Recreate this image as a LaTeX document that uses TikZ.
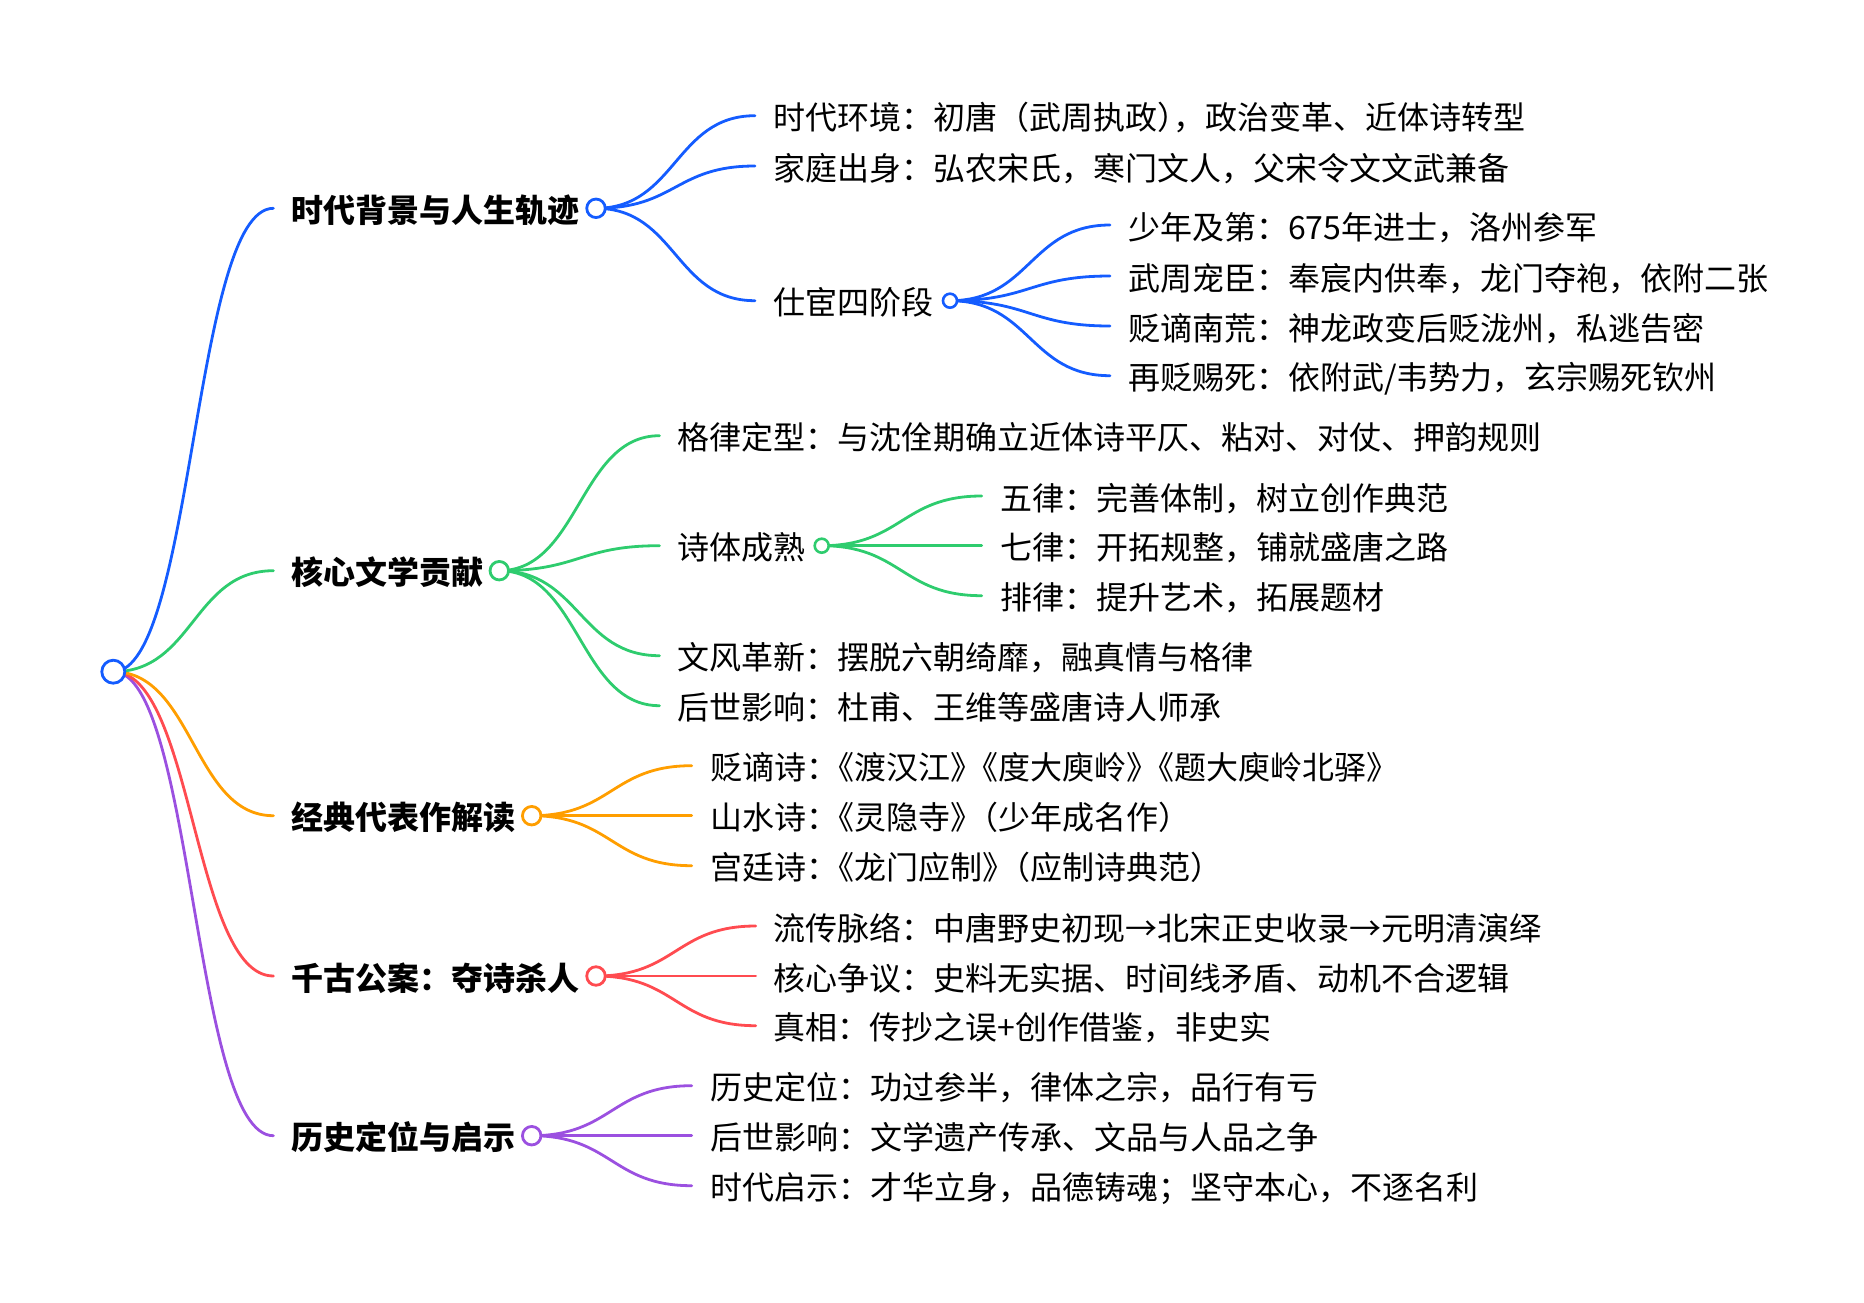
\documentclass[tikz,border=0pt]{standalone}
\usepackage{fontspec}
\setmainfont{Noto Sans CJK SC}
\usetikzlibrary{calc}
\definecolor{cblue}{RGB}{20,92,255}
\definecolor{cgreen}{RGB}{46,204,110}
\definecolor{corange}{RGB}{255,158,0}
\definecolor{cred}{RGB}{255,75,80}
\definecolor{cpurple}{RGB}{155,80,224}
\newcommand\fsz{\fontsize{32}{38}\selectfont}
\newcommand\tr{\kern-0.5em}
\newcommand\mmlink[3]{\draw[linkline,#1] (#2) .. controls ([xshift=80pt]#2) and ([xshift=-80pt]#3) .. (#3);}
\tikzset{
  linkline/.style={line width=2.8pt, line cap=round},
  lbl/.style={anchor=base west, inner sep=0pt, outer sep=0pt, font=\fsz, text=black},
  lblbold/.style={lbl, font=\fsz\bfseries},
  dotroot/.style={circle, draw, fill=white, line width=2.8pt, minimum size=23pt, inner sep=0pt},
  dotone/.style={circle, draw, fill=white, line width=2.8pt, minimum size=18.5pt, inner sep=0pt},
  dottwo/.style={circle, draw, fill=white, line width=2.6pt, minimum size=14pt, inner sep=0pt},
}
\begin{document}
\begin{tikzpicture}[x=1pt,y=-1pt]
\useasboundingbox (0,0) rectangle (1864,1302);
% ---- coordinates: circle centres ----
\coordinate (pR) at (113.3,671.7);
\coordinate (pA) at (596,208.3);
\coordinate (pB) at (499.3,570.7);
\coordinate (pC) at (531.7,815.7);
\coordinate (pD) at (596,976);
\coordinate (pE) at (531.7,1135.7);
\coordinate (pA3) at (950,300.7);
\coordinate (pB2) at (821.7,545.7);
% ---- coordinates: line ends ----
\coordinate (eA) at (273.4,208.3);
\coordinate (eB) at (273.4,570.7);
\coordinate (eC) at (273.4,815.7);
\coordinate (eD) at (273.4,976);
\coordinate (eE) at (273.4,1135.7);
\coordinate (eA1) at (755,115.7);
\coordinate (eA2) at (755,166);
\coordinate (eA3) at (755,300.7);
\coordinate (eA31) at (1110,225);
\coordinate (eA32) at (1110,276);
\coordinate (eA33) at (1110,326);
\coordinate (eA34) at (1110,375.7);
\coordinate (eB1) at (659.5,435.7);
\coordinate (eB2) at (659.5,545.7);
\coordinate (eB3) at (659.5,655.7);
\coordinate (eB4) at (659.5,705.7);
\coordinate (eB21) at (981.7,496);
\coordinate (eB22) at (981.7,545.7);
\coordinate (eB23) at (981.7,595.7);
\coordinate (eC1) at (691.7,765.7);
\coordinate (eC2) at (691.7,815.7);
\coordinate (eC3) at (691.7,865.7);
\coordinate (eD1) at (755.7,926);
\coordinate (eD2) at (755.7,976);
\coordinate (eD3) at (755.7,1025.7);
\coordinate (eE1) at (691.7,1085.7);
\coordinate (eE2) at (691.7,1135.7);
\coordinate (eE3) at (691.7,1185.7);
% ---- links ----
\mmlink{cpurple}{pR}{eE}
\mmlink{cred}{pR}{eD}
\mmlink{corange}{pR}{eC}
\mmlink{cgreen}{pR}{eB}
\mmlink{cblue}{pR}{eA}
\mmlink{cblue}{pA}{eA1}
\mmlink{cblue}{pA}{eA2}
\mmlink{cblue}{pA}{eA3}
\mmlink{cblue}{pA3}{eA31}
\mmlink{cblue}{pA3}{eA32}
\mmlink{cblue}{pA3}{eA33}
\mmlink{cblue}{pA3}{eA34}
\mmlink{cgreen}{pB}{eB1}
\mmlink{cgreen}{pB}{eB2}
\mmlink{cgreen}{pB}{eB3}
\mmlink{cgreen}{pB}{eB4}
\mmlink{cgreen}{pB2}{eB21}
\mmlink{cgreen}{pB2}{eB22}
\mmlink{cgreen}{pB2}{eB23}
\mmlink{corange}{pC}{eC1}
\mmlink{corange}{pC}{eC2}
\mmlink{corange}{pC}{eC3}
\mmlink{cred}{pD}{eD1}
\mmlink{cred}{pD}{eD2}
\mmlink{cred}{pD}{eD3}
\mmlink{cpurple}{pE}{eE1}
\mmlink{cpurple}{pE}{eE2}
\mmlink{cpurple}{pE}{eE3}
% ---- circles ----
\node[dotroot, draw=cblue] (cR) at (pR) {};
\node[dotone, draw=cblue] (cA) at (pA) {};
\node[dotone, draw=cgreen] (cB) at (pB) {};
\node[dotone, draw=corange] (cC) at (pC) {};
\node[dotone, draw=cred] (cD) at (pD) {};
\node[dotone, draw=cpurple] (cE) at (pE) {};
\node[dottwo, draw=cblue] (cA3) at (pA3) {};
\node[dottwo, draw=cgreen] (cB2) at (pB2) {};
% ---- labels ----
\node[lblbold] (tA) at (291.5,222.3) {时代背景与人生轨迹};
\node[lblbold] (tB) at (291.5,584.7) {核心文学贡献};
\node[lblbold] (tC) at (291.5,829.7) {经典代表作解读};
\node[lblbold] (tD) at (291.5,990) {千古公案：夺诗杀人};
\node[lblbold] (tE) at (291.5,1149.7) {历史定位与启示};
\node[lbl] (tA1) at (773.3,129.7) {时代环境：初唐（武周执政）\tr，政治变革、近体诗转型};
\node[lbl] (tA2) at (773.3,180) {家庭出身：弘农宋氏，寒门文人，父宋令文文武兼备};
\node[lbl] (tA3) at (773.3,314.7) {仕宦四阶段};
\node[lbl] (tA31) at (1128,239) {少年及第：675年进士，洛州参军};
\node[lbl] (tA32) at (1128,290) {武周宠臣：奉宸内供奉，龙门夺袍，依附二张};
\node[lbl] (tA33) at (1128,340) {贬谪南荒：神龙政变后贬泷州，私逃告密};
\node[lbl] (tA34) at (1128,389.7) {再贬赐死：依附武/韦势力，玄宗赐死钦州};
\node[lbl] (tB1) at (677.3,449.7) {格律定型：与沈佺期确立近体诗平仄、粘对、对仗、押韵规则};
\node[lbl] (tB2) at (677.3,559.7) {诗体成熟};
\node[lbl] (tB3) at (677.3,669.7) {文风革新：摆脱六朝绮靡，融真情与格律};
\node[lbl] (tB4) at (677.3,719.7) {后世影响：杜甫、王维等盛唐诗人师承};
\node[lbl] (tB21) at (1000,510) {五律：完善体制，树立创作典范};
\node[lbl] (tB22) at (1000,559.7) {七律：开拓规整，铺就盛唐之路};
\node[lbl] (tB23) at (1000,609.7) {排律：提升艺术，拓展题材};
\node[lbl] (tC1) at (710,779.7) {贬谪诗：\tr《渡汉江》\tr《度大庾岭》\tr《题大庾岭北驿》};
\node[lbl] (tC2) at (710,829.7) {山水诗：\tr《灵隐寺》\tr（少年成名作）};
\node[lbl] (tC3) at (710,879.7) {宫廷诗：\tr《龙门应制》\tr（应制诗典范）};
\node[lbl] (tD1) at (773.7,940) {流传脉络：中唐野史初现→北宋正史收录→元明清演绎};
\node[lbl] (tD2) at (773.7,990) {核心争议：史料无实据、时间线矛盾、动机不合逻辑};
\node[lbl] (tD3) at (773.7,1039.7) {真相：传抄之误+创作借鉴，非史实};
\node[lbl] (tE1) at (710,1099.7) {历史定位：功过参半，律体之宗，品行有亏};
\node[lbl] (tE2) at (710,1149.7) {后世影响：文学遗产传承、文品与人品之争};
\node[lbl] (tE3) at (710,1199.7) {时代启示：才华立身，品德铸魂；坚守本心，不逐名利};
\end{tikzpicture}
\end{document}
